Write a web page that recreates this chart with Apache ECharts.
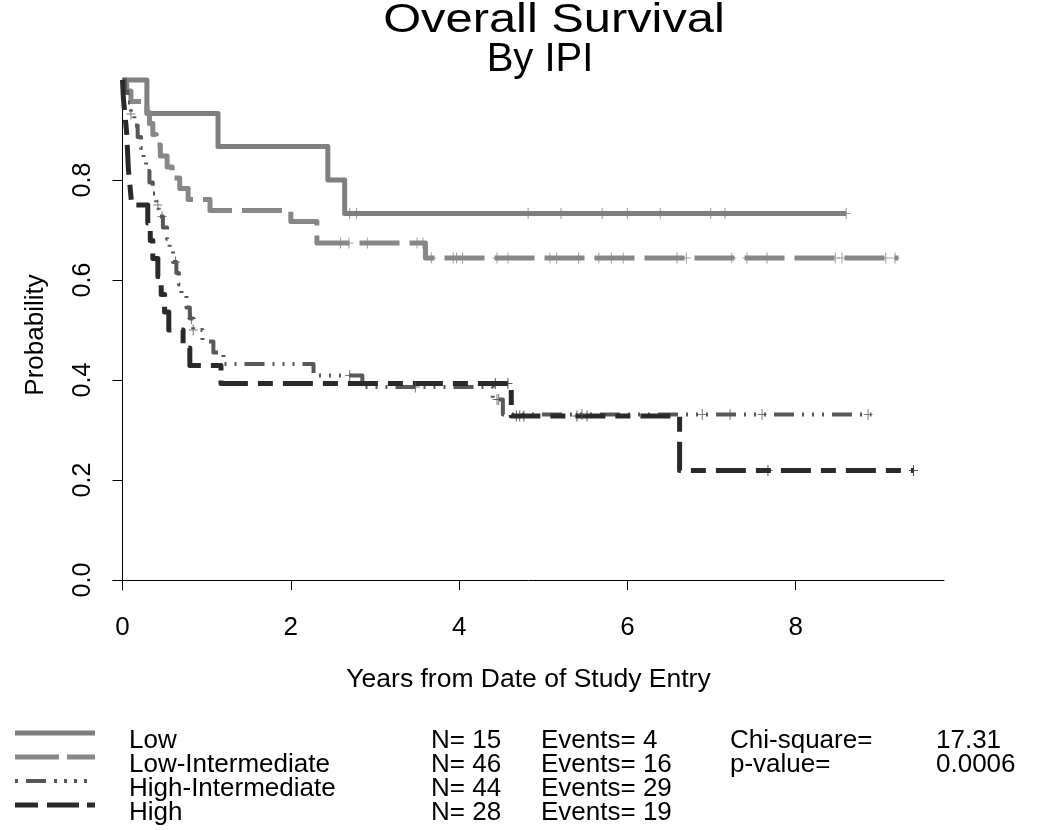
<!DOCTYPE html>
<html><head><meta charset="utf-8">
<script src="https://cdn.jsdelivr.net/npm/echarts@6/dist/echarts.min.js"></script>
<style>html,body{margin:0;padding:0;background:#fff}#c{width:1050px;height:830px}</style>
</head><body><div id="c"></div><script>
const FONT = "'Liberation Sans', Arial, sans-serif";
const groups = ['Low', 'Low-Intermediate', 'High-Intermediate', 'High'];
const nValues = [15, 46, 44, 28];
const eventValues = [4, 16, 29, 19];
const chiSquare = '17.31';
const pValue = '0.0006';
const xTicks = [0, 2, 4, 6, 8];
const yTicks = [0, 0.2, 0.4, 0.6, 0.8];

const lowTimes = [0, 0.29, 1.135, 2.44, 2.64, 8.6];
const lowSurv = [1, 0.933, 0.867, 0.8, 0.733, 0.733];
const lowCensor = [2.70, 2.78, 4.82, 5.21, 5.70, 6.00, 6.39, 6.99, 7.16, 8.6];

const lowIntTimes = [0, 0.05, 0.10, 0.29, 0.32, 0.36, 0.40, 0.45, 0.53, 0.59, 0.68, 0.78, 1.04, 2.0, 2.31, 3.6, 9.22];
const lowIntSurv = [1, 0.978, 0.957, 0.935, 0.913, 0.891, 0.870, 0.848, 0.826, 0.804, 0.783, 0.761, 0.739, 0.717, 0.674, 0.644, 0.644];
const lowIntCensor = [2.59, 2.69, 2.91, 3.50, 3.57, 3.67, 3.93, 3.97, 4.04, 4.45, 4.58, 5.08, 5.16, 5.42, 5.66, 5.81, 5.95, 6.59, 6.70, 7.24, 7.42, 7.66, 8.47, 8.55, 9.07, 9.18];

const highIntTimes = [0, 0.03, 0.06, 0.10, 0.14, 0.18, 0.22, 0.25, 0.28, 0.32, 0.36, 0.40, 0.43, 0.48, 0.53, 0.56, 0.60, 0.64, 0.67, 0.70, 0.76, 0.80, 0.84, 0.95, 1.08, 1.20, 2.27, 2.85, 4.40, 4.52, 8.9];
const highIntSurv = [1, 0.977, 0.955, 0.932, 0.909, 0.886, 0.864, 0.841, 0.818, 0.795, 0.773, 0.75, 0.727, 0.705, 0.682, 0.659, 0.636, 0.614, 0.591, 0.568, 0.545, 0.523, 0.50, 0.477, 0.455, 0.432, 0.409, 0.386, 0.361, 0.331, 0.331];
const highIntCensor = [0.10, 0.42, 0.47, 0.63, 0.82, 0.84, 2.70, 3.48, 4.45, 4.47, 5.46, 6.89, 7.22, 7.60, 8.86];

const highTimes = [0, 0.01, 0.03, 0.05, 0.06, 0.07, 0.09, 0.11, 0.30, 0.33, 0.36, 0.42, 0.46, 0.50, 0.55, 0.72, 0.80, 1.17, 4.62, 6.62, 9.40];
const highSurv = [1, 0.964, 0.929, 0.893, 0.857, 0.821, 0.786, 0.75, 0.714, 0.679, 0.643, 0.607, 0.571, 0.536, 0.50, 0.464, 0.429, 0.393, 0.328, 0.219, 0.219];
const highCensor = [4.43, 4.58, 4.68, 4.72, 4.77, 5.40, 5.52, 7.67, 9.40];

const curves = [
  {times: lowTimes, surv: lowSurv, censor: lowCensor, color: '#7f7f7f', width: 5, dash: 'solid', keyDash: null},
  {times: lowIntTimes, surv: lowIntSurv, censor: lowIntCensor, color: '#878787', width: 5, dash: [40, 10], keyDash: [44, 8]},
  {times: highIntTimes, surv: highIntSurv, censor: highIntCensor, color: '#585858', width: 4, dash: [20, 8, 2, 8, 2, 8, 2, 8], keyDash: [3, 8, 20, 8, 3, 7, 3, 7, 3, 7]},
  {times: highTimes, surv: highSurv, censor: highCensor, color: '#2a2a2a', width: 5, dash: [30, 10, 15, 10], keyDash: [23, 9, 32, 8]}
];

function survAt(c, t) {
  let s = c.surv[0];
  for (let i = 0; i < c.times.length; i++) { if (c.times[i] <= t) s = c.surv[i]; }
  return s;
}

const series = [];
curves.forEach((c, k) => {
  series.push({
    type: 'line', name: groups[k], step: 'end', symbol: 'none', clip: false, animation: false, z: 2 + k,
    data: c.times.map((t, i) => [t, c.surv[i]]),
    lineStyle: {color: c.color, width: c.width, type: c.dash, cap: 'butt', join: 'round'}
  });
  series.push({
    type: 'scatter', name: groups[k] + ' censored', clip: false, animation: false, z: 6 + k,
    symbol: 'path://M4,0h1v11h-1zM0,5h9v1h-9z', symbolSize: [9, 11],
    itemStyle: {color: c.color},
    data: c.censor.map(t => [t, survAt(c, t)])
  });
});

const rowY = [741, 765, 789, 813];
const graphics = [];
graphics.push({type: 'text', x: 554, y: 21, scaleX: 1.22, scaleY: 1, style: {text: 'Overall Survival', font: '40px ' + FONT, fill: '#000', align: 'center', verticalAlign: 'middle'}});
graphics.push({type: 'text', x: 540, y: 60, style: {text: 'By IPI', font: '40px ' + FONT, fill: '#000', align: 'center', verticalAlign: 'middle'}});
curves.forEach((c, k) => {
  const y = rowY[k] - 8;
  graphics.push({type: 'line', shape: {x1: 15, y1: y, x2: 95, y2: y},
    style: {stroke: c.color, lineWidth: c.width, lineDash: c.keyDash, lineCap: 'butt'}});
  const txt = (s, x) => ({type: 'text', x: x, y: rowY[k], style: {text: s, font: '26px ' + FONT, fill: '#000', align: 'left', verticalAlign: 'middle'}});
  graphics.push(txt(groups[k], 129));
  graphics.push(txt('N= ' + nValues[k], 431));
  graphics.push(txt('Events= ' + eventValues[k], 541));
});
const statText = (s, x, y) => ({type: 'text', x: x, y: y, style: {text: s, font: '26px ' + FONT, fill: '#000', verticalAlign: 'middle'}});
graphics.push(statText('Chi-square=', 730, rowY[0]));
graphics.push(statText(chiSquare, 936, rowY[0]));
graphics.push(statText('p-value=', 730, rowY[1]));
graphics.push(statText(pValue, 936, rowY[1]));

const chart = echarts.init(document.getElementById('c'), null, {renderer: 'canvas'});
chart.setOption({
  backgroundColor: '#fff',
  animation: false,
  grid: {left: 113, right: 106, top: 80, bottom: 240, containLabel: false},
  xAxis: {
    type: 'value', min: -0.113, max: 9.762,
    name: 'Years from Date of Study Entry', nameLocation: 'middle', nameGap: 76,
    nameTextStyle: {fontSize: 26.5, color: '#000', fontFamily: FONT},
    axisLine: {onZero: true, lineStyle: {color: '#000', width: 1}},
    axisTick: {customValues: xTicks, length: 10, inside: false, lineStyle: {color: '#000', width: 1}},
    axisLabel: {customValues: xTicks, margin: 25, fontSize: 26, color: '#000', fontFamily: FONT},
    splitLine: {show: false}
  },
  yAxis: {
    type: 'value', min: -0.02, max: 1.0,
    name: 'Probability', nameLocation: 'middle', nameGap: 64, nameRotate: 90,
    nameTextStyle: {fontSize: 26, color: '#000', fontFamily: FONT},
    axisLine: {onZero: true, lineStyle: {color: '#000', width: 1}},
    axisTick: {customValues: yTicks, length: 10, inside: false, lineStyle: {color: '#000', width: 1}},
    axisLabel: {customValues: yTicks, margin: 17, rotate: 90, fontSize: 25, color: '#000', fontFamily: FONT,
      formatter: v => v.toFixed(1)},
    splitLine: {show: false}
  },
  series: series,
  graphic: graphics
});
</script></body></html>
